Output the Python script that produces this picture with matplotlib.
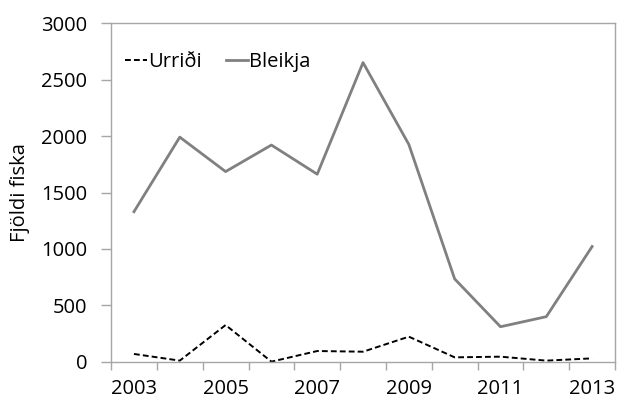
import matplotlib
matplotlib.use("Agg")
import matplotlib.pyplot as plt
import numpy as np

plt.rcParams['font.family'] = ['Open Sans', 'DejaVu Sans']

years = [2003, 2004, 2005, 2006, 2007, 2008, 2009, 2010, 2011, 2012, 2013]
urridi = [71, 12, 327, 3, 97, 91, 224, 41, 47, 12, 32]
bleikja = [1330, 1990, 1685, 1920, 1662, 2650, 1925, 735, 312, 401, 1022]
year_labels = ['2003', '', '2005', '', '2007', '', '2009', '', '2011', '', '2013']

fig = plt.figure(figsize=(6.17, 4.01), dpi=100)
ax = fig.add_axes([0.180, 0.0973, 0.8168, 0.8453])

x = np.arange(len(years))
ax.plot(x, urridi, color='black', lw=1.4, linestyle=(0, (3, 1.6)), label='Urriði')
ax.plot(x, bleikja, color='#808080', lw=2.0, label='Bleikja')

ax.set_xlim(-0.5, len(years) - 0.5)
ax.set_ylim(0, 3000)
ax.set_yticks(np.arange(0, 3001, 500))

ax.set_xticks(x)
ax.set_xticklabels(year_labels)
ax.set_xticks(np.arange(-0.5, len(years), 1.0), minor=True)
ax.tick_params(axis='x', which='major', length=0, pad=12, labelsize=14.5)
ax.tick_params(axis='x', which='minor', length=6, width=1, color='#a6a6a6', direction='out')
ax.tick_params(axis='y', length=7, width=1, color='#a6a6a6', pad=10, labelsize=14.5)

for s in ax.spines.values():
    s.set_color('#a6a6a6')
    s.set_linewidth(1.0)

ax.set_ylabel('Fjöldi fiska', fontsize=14.5, labelpad=8)

leg = ax.legend(loc='upper left', ncol=2, frameon=False, fontsize=14.5,
                handlelength=1.1, handletextpad=0.05, columnspacing=1.2,
                bbox_to_anchor=(0.0, 0.955), borderaxespad=0.3)

fig.savefig('out.png', dpi=100)
